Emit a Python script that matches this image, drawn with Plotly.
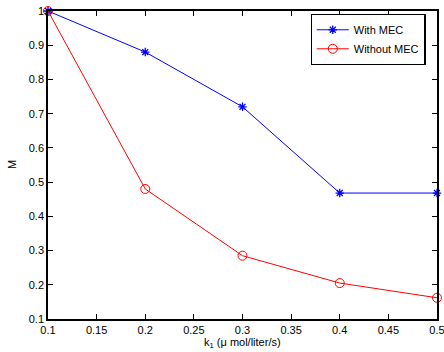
import plotly.graph_objects as go

k1 = [0.1, 0.2, 0.3, 0.4, 0.5]
with_mec = [1.0, 0.88, 0.72, 0.468, 0.468]
without_mec = [1.0, 0.48, 0.285, 0.205, 0.162]
x_ticks = [0.1, 0.15, 0.2, 0.25, 0.3, 0.35, 0.4, 0.45, 0.5]
x_labels = ["0.1", "0.15", "0.2", "0.25", "0.3", "0.35", "0.4", "0.45", "0.5"]
y_ticks = [0.1, 0.2, 0.3, 0.4, 0.5, 0.6, 0.7, 0.8, 0.9, 1.0]
y_labels = ["0.1", "0.2", "0.3", "0.4", "0.5", "0.6", "0.7", "0.8", "0.9", "1"]

FONT = "Liberation Sans, Arial, sans-serif"

fig = go.Figure()
fig.add_trace(go.Scatter(
    x=k1, y=with_mec, name="With MEC", mode="lines+markers",
    line=dict(color="#0000ff", width=1),
    marker=dict(symbol="asterisk-open", size=7, color="#0000ff", line=dict(color="#0000ff", width=1.3)),
    cliponaxis=False))
fig.add_trace(go.Scatter(
    x=k1, y=without_mec, name="Without MEC", mode="lines+markers",
    line=dict(color="#ff0000", width=1),
    marker=dict(symbol="circle-open", size=9, color="#ff0000", line=dict(color="#ff0000", width=1)),
    cliponaxis=False))

axis_common = dict(showgrid=False, zeroline=False, showline=True, linecolor="black", linewidth=1.5,
                   mirror="ticks", ticks="inside", ticklen=5, tickcolor="black", automargin=False,
                   ticklabeloverflow="allow",
                   tickfont=dict(family=FONT, size=11, color="black"))

fig.update_layout(
    width=444, height=352,
    margin=dict(l=48, r=7, t=11, b=33, autoexpand=False),
    paper_bgcolor="white", plot_bgcolor="white",
    font=dict(family=FONT, size=11, color="black"),
    xaxis=dict(range=[0.1, 0.5], tickvals=x_ticks, ticktext=x_labels, **axis_common),
    yaxis=dict(range=[0.1, 1.0], tickvals=y_ticks, ticktext=y_labels, **axis_common),
    legend=dict(x=0.675, y=0.99, xanchor="left", yanchor="top",
                bgcolor="white", bordercolor="black", borderwidth=1.2,
                font=dict(size=11), tracegroupgap=0, itemwidth=32),
    showlegend=True,
    annotations=[
        dict(text="k<sub>1</sub> (μ mol/liter/s)", xref="paper", yref="paper", x=0.5, y=0,
             xanchor="center", yanchor="top", yshift=-15, showarrow=False, font=dict(size=11)),
        dict(text="M", xref="paper", yref="paper", x=0, y=0.5, textangle=-90,
             xanchor="center", yanchor="middle", xshift=-36, showarrow=False, font=dict(size=11)),
    ],
)

fig.write_html("out.html", config={"displayModeBar": False},
               post_script="document.body.style.margin='0';document.body.style.overflow='hidden';")
